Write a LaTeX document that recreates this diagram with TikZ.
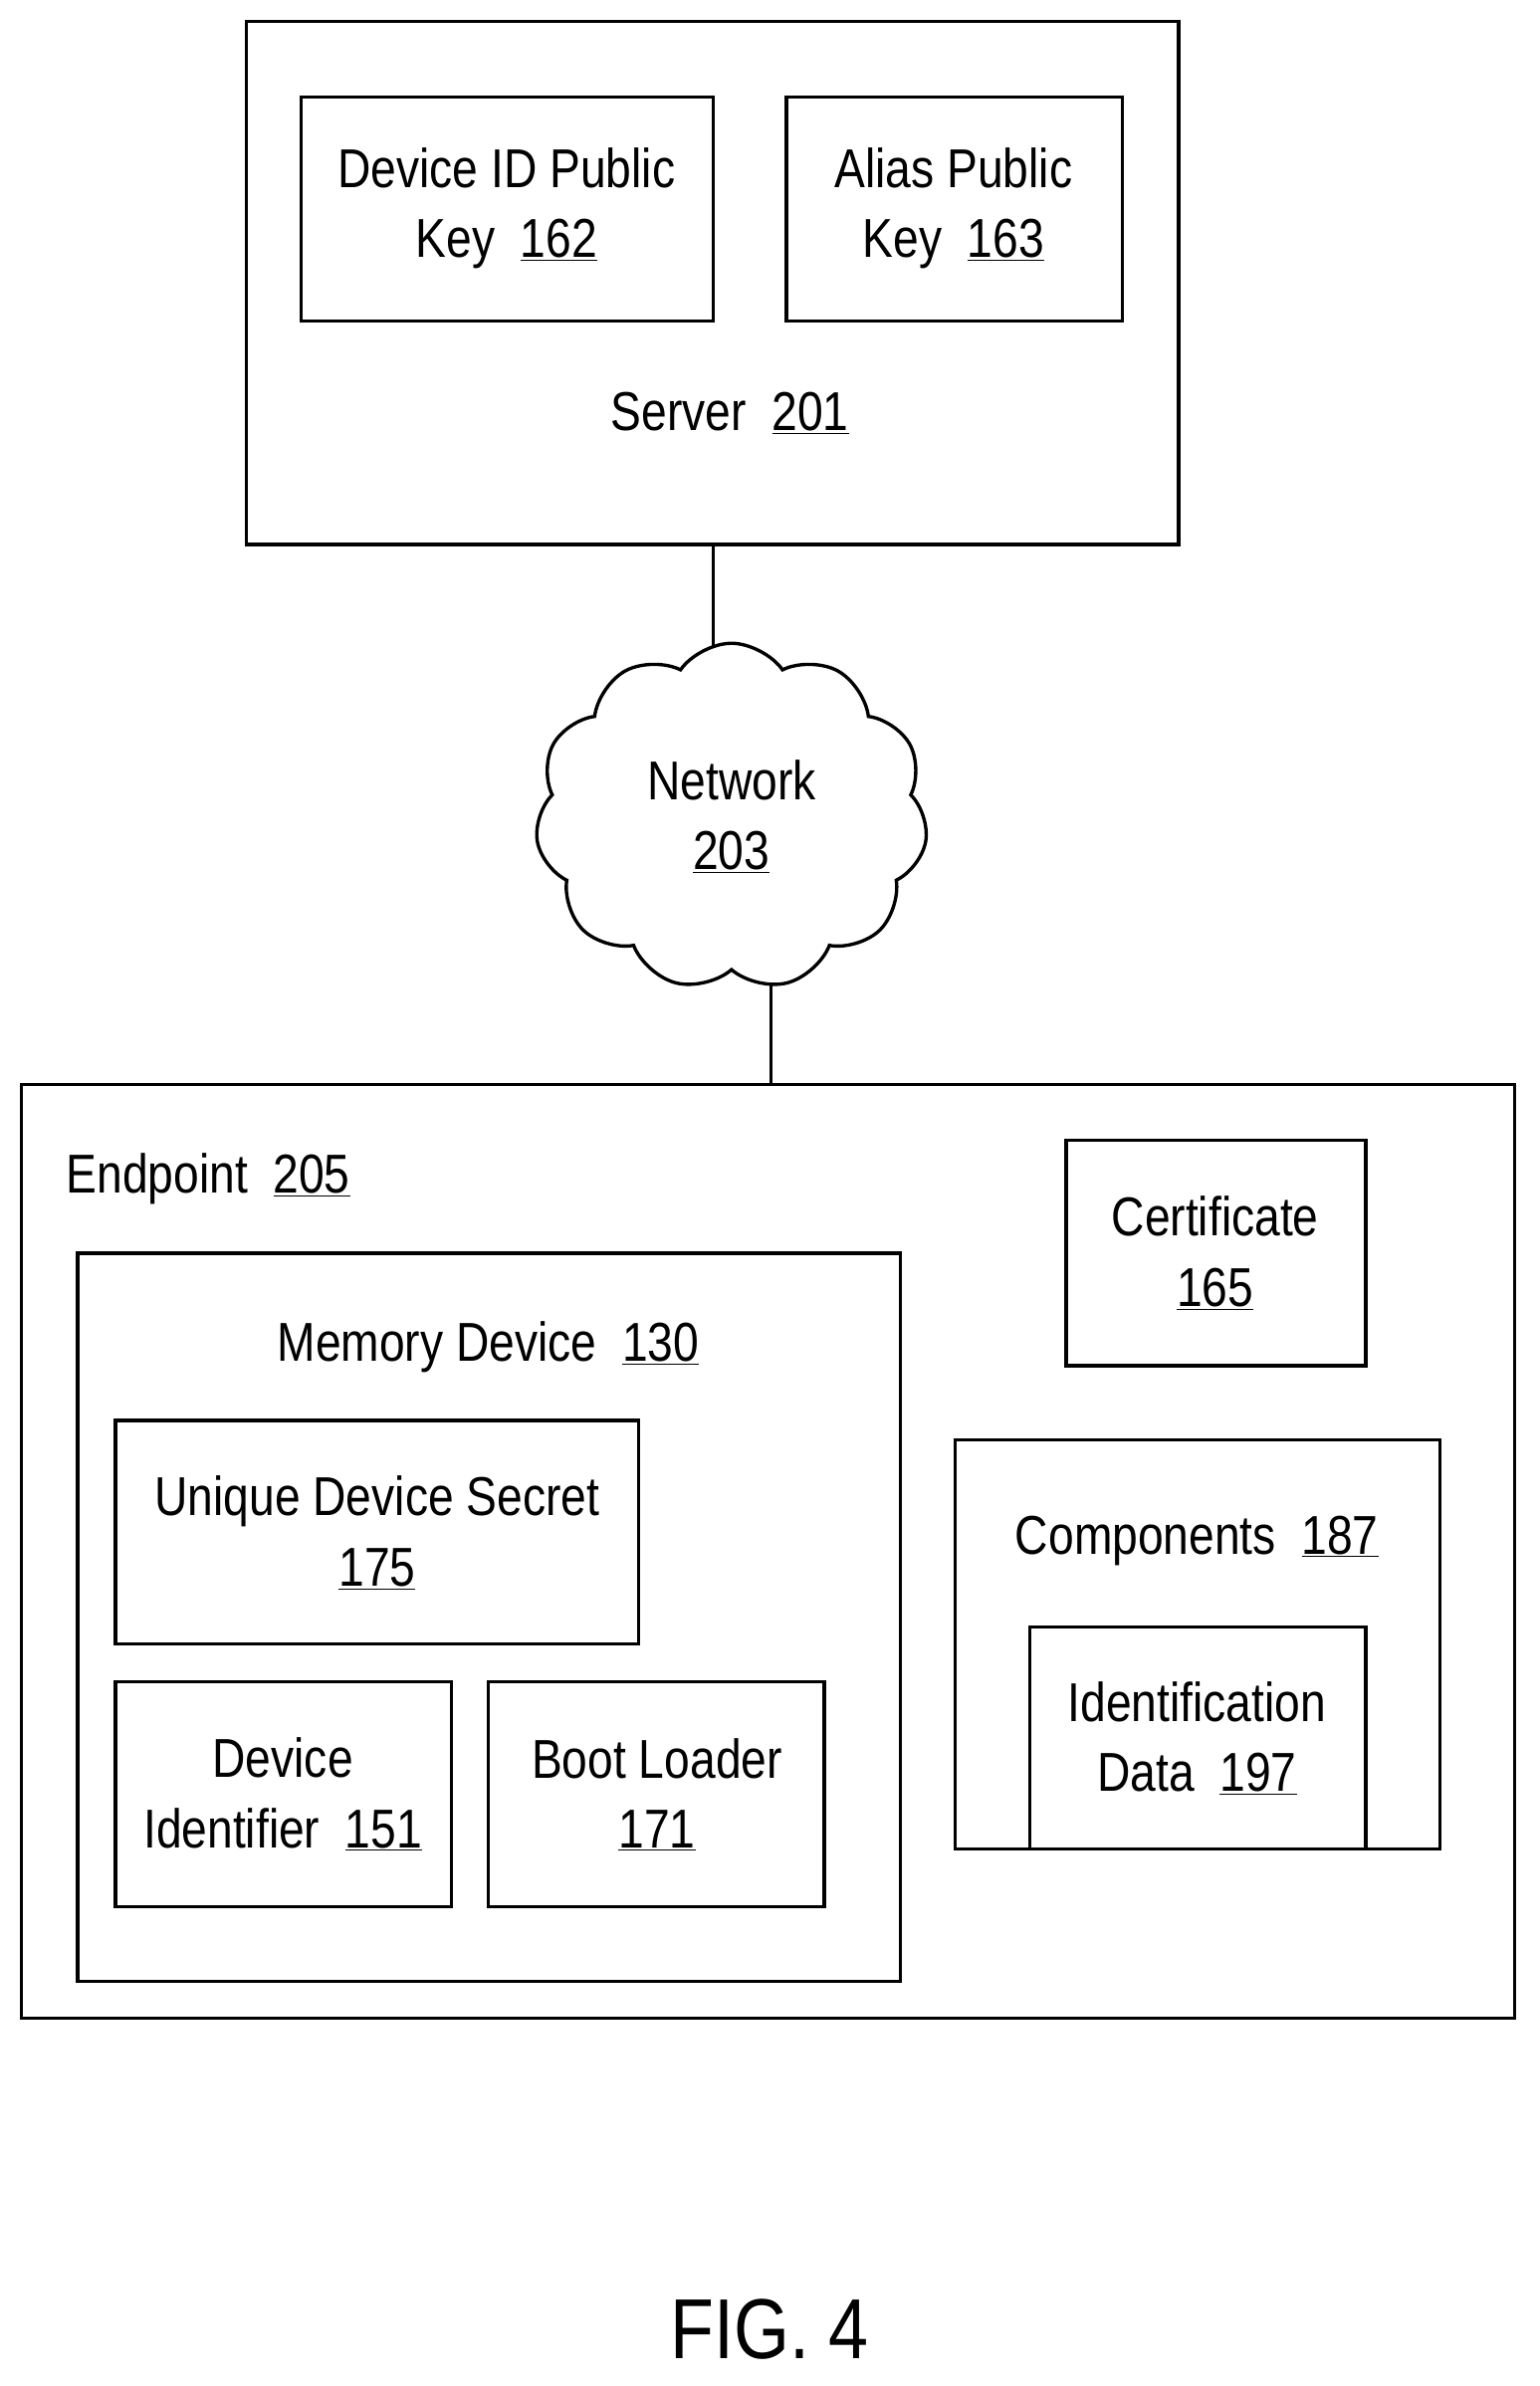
\documentclass[tikz,border=0pt]{standalone}
\usepackage{fontspec}
\setmainfont{Liberation Sans}[FakeStretch=0.84]
\usetikzlibrary{shapes.symbols}
\newcommand{\refnum}[1]{\underline{#1}}
\tikzset{
  box/.style={draw, line width=2.2pt},
  lbl/.style={font=\fontsize{36}{46}\selectfont, align=center},
}
\begin{document}
\begin{tikzpicture}[x=1pt,y=-1pt]
        \useasboundingbox (0,0) rectangle (1012,1569);
    
        % Server
        \draw[box] (162,14) rectangle (775,358);
        \draw[box] (198,64) rectangle (469,211);
        \draw[box] (517,64) rectangle (738,211);
        \node[lbl] (devid) at (333,137) {Device ID Public\\Key\ \ \refnum{162}};
        \node[lbl] (alias) at (627,137) {Alias Public\\Key\ \ \refnum{163}};
        \node[lbl] (server) at (480,272) {Server\ \ \refnum{201}};
        \coordinate (srvbot) at (469,358);
    
        % Network cloud
        \node[draw, line width=2.2pt, cloud, cloud puffs=11, cloud puff arc=110, aspect=1.1,
              minimum width=258, minimum height=228, lbl] (net) at (481,537) {Network\\\refnum{203}};
        \coordinate (nettop) at (469,426);
        \coordinate (netbot) at (507,648);
        \coordinate (endtop) at (507,713);
        \draw[line width=2.2pt] (srvbot) -- (nettop);
        \draw[line width=2.2pt] (netbot) -- (endtop);
    
        % Endpoint
        \draw[box] (14,713) rectangle (996,1327);
        \node[lbl, anchor=west] (endpt) at (40,775) {Endpoint\ \ \refnum{205}};
        \draw[box] (701,750) rectangle (898,898);
        \node[lbl] (cert) at (799,824) {Certificate\\\refnum{165}};
    
        % Memory device
        \draw[box] (51,824) rectangle (592,1303);
        \node[lbl] (mem) at (321,886) {Memory Device\ \ \refnum{130}};
        \draw[box] (76,934) rectangle (420,1081);
        \node[lbl] (uds) at (248,1008) {Unique Device Secret\\\refnum{175}};
        \draw[box] (76,1106) rectangle (297,1254);
        \node[lbl] (devident) at (186,1180) {Device\\Identifier\ \ \refnum{151}};
        \draw[box] (321,1106) rectangle (542,1254);
        \node[lbl] (boot) at (432,1180) {Boot Loader\\\refnum{171}};
    
        % Components
        \draw[box] (628,947) rectangle (947,1216);
        \node[lbl] (comp) at (787,1013) {Components\ \ \refnum{187}};
        \draw[box] (677,1216) -- (677,1070) -- (898,1070) -- (898,1216);
        \node[lbl] (iddata) at (787,1143) {Identification\\Data\ \ \refnum{197}};
    
        % Figure label
        \node[font=\fontsize{56}{66}\selectfont] (fig) at (506,1532) {FIG. 4};
    
    \end{tikzpicture}
\end{document}
